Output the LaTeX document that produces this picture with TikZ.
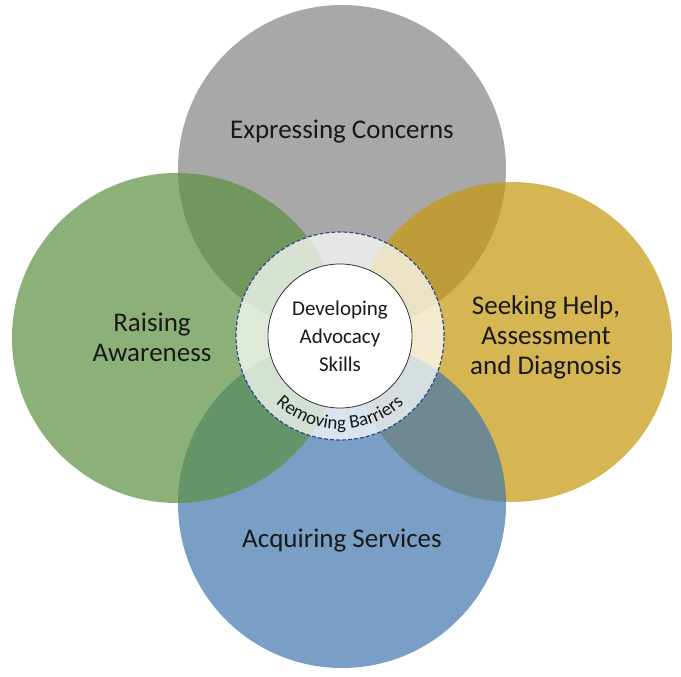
\documentclass[tikz,border=0pt]{standalone}
\usepackage{fontspec}
\setmainfont{Carlito}
\usetikzlibrary{decorations.text}
\definecolor{petalgray}{RGB}{132,132,132}
\definecolor{petalgreen}{RGB}{91,145,65}
\definecolor{petalgold}{RGB}{198,151,11}
\definecolor{petalblue}{RGB}{66,119,174}
\definecolor{ringblue}{HTML}{2E4A8C}

\begin{document}
\begin{tikzpicture}[x=1pt, y=1pt,
  petal/.style={circle, inner sep=0pt, draw=none, fill opacity=0.7},
  petaltext/.style={font=\fontsize{27}{30}\selectfont, align=center, text=black!90},
  barrierring/.style={circle, minimum size=208pt, inner sep=0pt, fill=white, fill opacity=0.72,
    draw=ringblue, line width=1.2pt, dash pattern=on 4pt off 2pt},
  corecircle/.style={circle, minimum size=144pt, inner sep=0pt, fill=white, draw=black!80,
    line width=0.8pt, align=center, font=\fontsize{21}{28}\selectfont, text=black!90}
]
\useasboundingbox (0,0) rectangle (681,677);
\fill[white] (0,0) rectangle (681,677);

% the four stages
\node[petal, minimum size=328pt, fill=petalgray] (concerns) at (342,508) {};
\node[petal, minimum size=320pt, fill=petalgold] (seeking) at (512,335) {};
\node[petal, minimum size=328pt, fill=petalblue] (services) at (342,173) {};
\node[petal, minimum size=330pt, fill=petalgreen] (awareness) at (177,339) {};

\node[petaltext] (concernslabel) at ([yshift=37pt]concerns.center) {Expressing Concerns};
\node[petaltext] (seekinglabel) at (546,340) {Seeking Help,\\Assessment\\and Diagnosis};
\node[petaltext] (serviceslabel) at ([yshift=-37pt]services.center) {Acquiring Services};
\node[petaltext] (awarenesslabel) at (152,340) {Raising\\Awareness};

% centre
\node[barrierring] (ring) at (340,341) {};
\node[corecircle] (skills) at (ring.center) {Developing\\Advocacy\\Skills};
\path[decorate, decoration={text along path, text align=center,
    text={|\fontsize{19}{19}\selectfont\color{black!90}|Removing Barriers}}]
  (ring.center) ++(215:93pt) arc[start angle=215, end angle=325, radius=93pt];
\end{tikzpicture}
\end{document}
